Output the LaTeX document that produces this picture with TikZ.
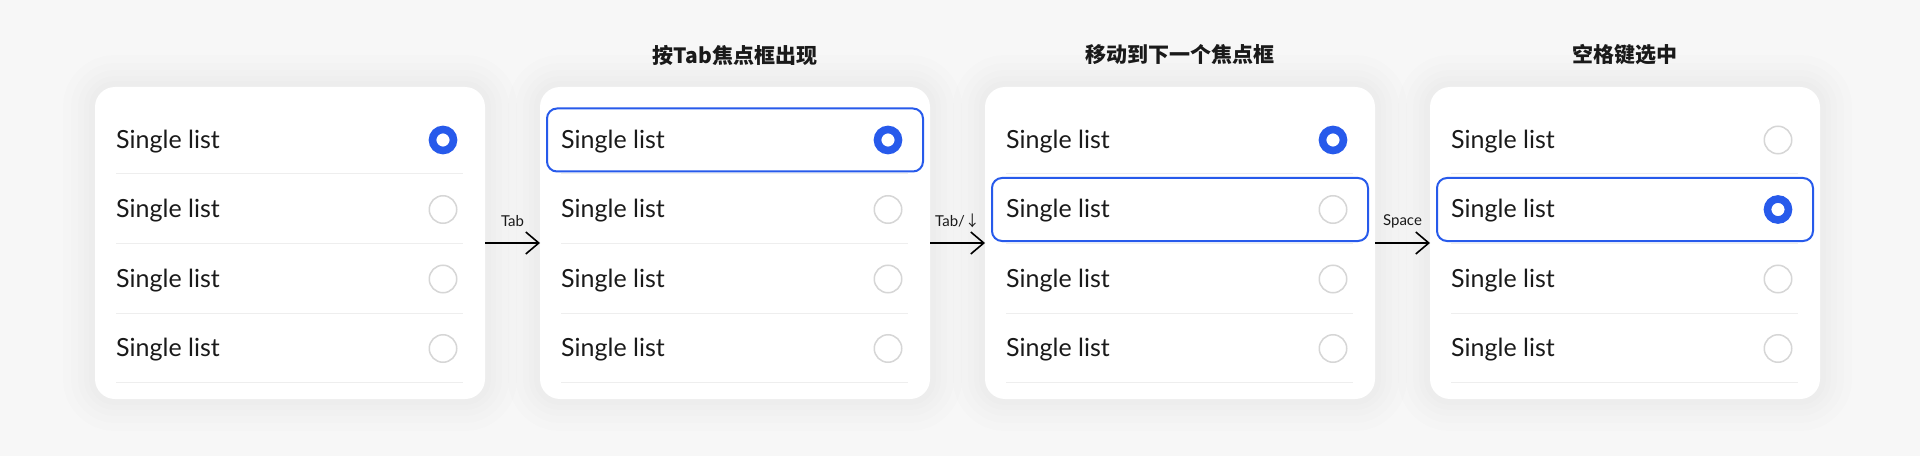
\documentclass[tikz,border=0pt]{standalone}
\usepackage{fontspec}
\setmainfont{Lato}
\newfontfamily\cjk{Noto Sans CJK SC}
\usetikzlibrary{positioning,arrows.meta}

\definecolor{focusblue}{HTML}{275AEB}
\definecolor{inkgray}{HTML}{1A1A1A}
\definecolor{rulegray}{HTML}{EEEEEE}
\definecolor{ringgray}{HTML}{D6D6D6}
\definecolor{paper}{HTML}{F7F7F7}

\begin{document}
\begin{tikzpicture}[x=1pt, y=1pt]

% definitions
\tikzstyle{card} = [rectangle, rounded corners=20pt, minimum width=390pt, minimum height=312pt, inner sep=0pt, outer sep=0pt, fill=white,
  preaction={draw=black, draw opacity=0.007, line width=64pt},
  preaction={draw=black, draw opacity=0.007, line width=48pt},
  preaction={draw=black, draw opacity=0.007, line width=34pt},
  preaction={draw=black, draw opacity=0.007, line width=22pt},
  preaction={draw=black, draw opacity=0.007, line width=12pt}]

\tikzstyle{title} = [font=\cjk\bfseries\fontsize{21}{25}\selectfont, text=inkgray]

\tikzstyle{item} = [font=\fontsize{25}{29}\selectfont, text=inkgray, inner sep=0pt, anchor=base west]

\tikzstyle{radiooff} = [circle, minimum size=27.5pt, inner sep=0pt, draw=ringgray, line width=1.5pt]

\tikzstyle{radioon} = [circle, minimum size=21pt, inner sep=0pt, draw=focusblue, fill=white, line width=7.6pt]

\tikzstyle{focus} = [rectangle, rounded corners=10pt, minimum width=376pt, minimum height=63pt, draw=focusblue, line width=2pt]

\tikzstyle{sep} = [draw=rulegray, line width=1pt]

\tikzstyle{arrow} = [-{Straight Barb[length=13pt, width=22pt]}, line width=1.6pt, draw=black]

\tikzstyle{key} = [font=\fontsize{15}{17}\selectfont, text=inkgray, yshift=22pt]

\tikzset{pick/.code 2 args={\ifnum#1=#2 \tikzset{radioon}\else\tikzset{radiooff}\fi}}

\fill [paper] (0,0) rectangle (1920,456);
\useasboundingbox (0,0) rectangle (1920,456);

% the graph
\node (c1) [card] at (290,213) {};

\node (c2) [card, right=55pt of c1] {};

\node (c3) [card, right=55pt of c2] {};

\node (c4) [card, right=55pt of c3] {};

\node (h2) [title] at ([yshift=32pt]c2.north) {按Tab焦点框出现};

\node (h3) [title] at ([yshift=32pt]c3.north) {移动到下一个焦点框};

\node (h4) [title] at ([yshift=32pt]c4.north) {空格键选中};

\foreach \cardno/\selno in {1/1, 2/1, 3/1, 4/2} {
  \foreach \rowno in {1,...,4} {
    \node (t\cardno\rowno) [item] at ([xshift=21pt, yshift={-61.3-69.5*(\rowno-1)}]c\cardno.north west) {Single list};
    \node (r\cardno\rowno) [pick={\rowno}{\selno}] at ([xshift=-42pt, yshift={-53-69.5*(\rowno-1)}]c\cardno.north east) {};
    \draw [sep] ([xshift=21pt, yshift={-87-69.5*(\rowno-1)}]c\cardno.north west) -- ([xshift=-22pt, yshift={-87-69.5*(\rowno-1)}]c\cardno.north east);
  }
}

\node (f2) [focus] at (c2 |- r21) {};

\node (f3) [focus] at (c3 |- r32) {};

\node (f4) [focus] at (c4 |- r42) {};

\draw [arrow] (c1) -- node [key] {Tab} (c2);
\draw [arrow] (c2) -- node [key] {Tab/{\cjk ↓}} (c3);
\draw [arrow] (c3) -- node [key] {Space} (c4);

\end{tikzpicture}
\end{document}
